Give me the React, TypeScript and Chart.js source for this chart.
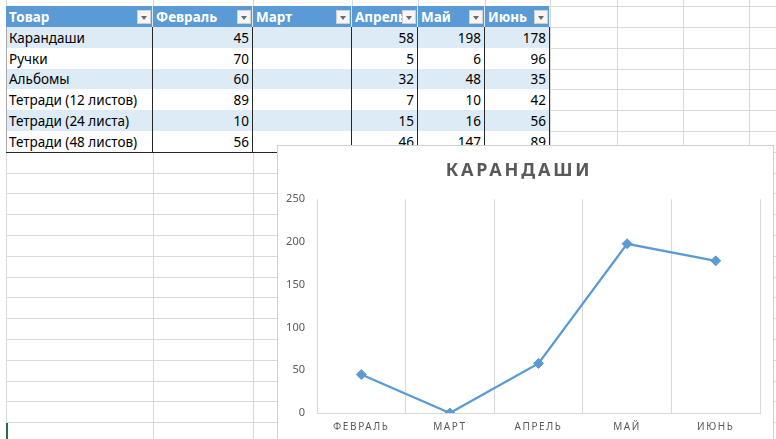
import React, { useEffect, useRef } from "react";
import { Chart, registerables } from "chart.js";

Chart.register(...registerables);

// ---------- DATA ----------
const headerLabels = ["Товар", "Февраль", "Март", "Апрель", "Май", "Июнь"];
const products = [
  "Карандаши",
  "Ручки",
  "Альбомы",
  "Тетради (12 листов)",
  "Тетради (24 листа)",
  "Тетради (48 листов)",
];
const feb: (number | null)[] = [45, 70, 60, 89, 10, 56];
const mar: (number | null)[] = [null, null, null, null, null, null];
const apr: (number | null)[] = [58, 5, 32, 7, 15, 46];
const may: (number | null)[] = [198, 6, 48, 10, 16, 147];
const jun: (number | null)[] = [178, 96, 35, 42, 56, 89];
const chartCategories = ["ФЕВРАЛЬ", "МАРТ", "АПРЕЛЬ", "МАЙ", "ИЮНЬ"];
const chartTitle = "КАРАНДАШИ";
const chartRow = 0; // Карандаши
const yMin = 0;
const yMax = 250;
const yStep = 50;

// ---------- LAYOUT ----------
const W = 776;
const H = 439;
const colX = [6, 153, 253, 352, 418, 485, 550, 617, 683, 749, 816];
const rowTop0 = 6.1;
const rowH = 20.8;
const FONT = '"Noto Sans", "Open Sans", sans-serif';
const chartBox = { left: 277, top: 145, width: 497, height: 300 };

const monthCols = [feb, mar, apr, may, jun];

function ChartPanel() {
  const ref = useRef<HTMLCanvasElement | null>(null);
  useEffect(() => {
    const canvas = ref.current;
    if (!canvas) return;
    const series = monthCols.map((col) => col[chartRow] ?? 0);
    const spacingPlugin = {
      id: "letterSpacing",
      beforeDraw(chart: any) {
        const x = chart.scales.x;
        if (x && !x.__ls) {
          const orig = x.drawLabels.bind(x);
          x.drawLabels = (area: any) => {
            const c = chart.ctx as any;
            c.save();
            c.letterSpacing = "1.6px";
            orig(area);
            c.restore();
          };
          x.__ls = true;
        }
        const t = chart.titleBlock;
        if (t && !t.__ls) {
          const origT = t.draw.bind(t);
          t.draw = (...args: any[]) => {
            const c = chart.ctx as any;
            c.save();
            c.letterSpacing = "2.8px";
            origT(...args);
            c.restore();
          };
          t.__ls = true;
        }
      },
    };
    const chart = new Chart(canvas, {
      type: "line",
      data: {
        labels: chartCategories,
        datasets: [
          {
            label: products[chartRow],
            data: series,
            borderColor: "#5B9BD5",
            backgroundColor: "#5B9BD5",
            borderWidth: 2.3,
            pointStyle: "rectRot",
            pointRadius: 5,
            pointBorderWidth: 1,
            pointBackgroundColor: "#5B9BD5",
            pointBorderColor: "#5B9BD5",
            tension: 0,
          },
        ],
      },
      options: {
        animation: false,
        responsive: false,
        devicePixelRatio: 1,
        layout: { padding: { left: 0, right: 13, top: 0, bottom: 0 } },
        plugins: {
          legend: { display: false },
          tooltip: { enabled: false },
          title: {
            display: true,
            text: chartTitle,
            color: "#595959",
            font: { family: FONT, size: 18, weight: "bold" },
            padding: { top: 14, bottom: 17.7 },
          },
        },
        scales: {
          x: {
            offset: true,
            grid: { display: true, offset: true, color: "#D9D9D9", drawTicks: false, lineWidth: 1 },
            border: { display: true, color: "#D9D9D9", width: 1 },
            ticks: {
              color: "#595959",
              font: { family: FONT, size: 10 },
              padding: 8.5,
              maxRotation: 0,
            },
            afterFit: (s: any) => {
              s.height = 31;
            },
          },
          y: {
            min: yMin,
            max: yMax,
            grid: { display: false, drawTicks: false },
            border: { display: false },
            ticks: {
              stepSize: yStep,
              color: "#595959",
              font: { family: FONT, size: 11 },
              padding: 12,
            },
            afterFit: (s: any) => {
              s.width = 39;
            },
          },
        },
      },
      plugins: [spacingPlugin as any],
    });
    return () => chart.destroy();
  }, []);
  return (
    <div
      style={{
        position: "absolute",
        left: chartBox.left,
        top: chartBox.top,
        width: chartBox.width,
        height: chartBox.height,
        background: "#fff",
        border: "1px solid #D0D0D0",
        boxSizing: "border-box",
      }}
    >
      <canvas
        ref={ref}
        width={chartBox.width - 2}
        height={chartBox.height - 2}
        style={{ position: "absolute", left: 0, top: 0, width: chartBox.width - 2, height: chartBox.height - 2 }}
      />
    </div>
  );
}

function DropButton({ right, top }: { right: number; top: number }) {
  return (
    <div
      style={{
        position: "absolute",
        left: right - 16,
        top,
        width: 14,
        height: 14,
        background: "#F5F5F5",
        border: "1px solid #D0D0D0",
        boxSizing: "border-box",
      }}
    >
      <div
        style={{
          position: "absolute",
          left: 3,
          top: 5,
          width: 0,
          height: 0,
          borderLeft: "3.5px solid transparent",
          borderRight: "3.5px solid transparent",
          borderTop: "4px solid #6A6A6A",
        }}
      />
    </div>
  );
}

function Sheet() {
  const els: React.ReactNode[] = [];
  // sheet gridlines
  for (let i = 0; i < colX.length; i++) {
    els.push(
      <div key={"vc" + i} style={{ position: "absolute", left: colX[i], top: 0, width: 1, height: H, background: "#DADADA" }} />
    );
  }
  for (let y = rowTop0 - rowH, k = 0; y < H; y += rowH, k++) {
    els.push(
      <div key={"hr" + k} style={{ position: "absolute", left: colX[0], top: Math.round(y), width: W, height: 1, background: "#DADADA" }} />
    );
  }
  // header row
  const hTop = Math.round(rowTop0);
  const hH = Math.round(rowTop0 + rowH) - hTop;
  headerLabels.forEach((lab, c) => {
    const l = colX[c];
    const r = colX[c + 1];
    els.push(
      <div
        key={"h" + c}
        style={{
          position: "absolute",
          left: l,
          top: hTop,
          width: r - l,
          height: hH,
          background: "#5B9BD5",
          borderRight: "1px solid #DCE8F4",
          boxSizing: "border-box",
          overflow: "hidden",
        }}
      >
        <div
          style={{
            position: "absolute",
            left: 3,
            top: 0,
            lineHeight: hH + 1 + "px",
            color: "#fff",
            fontWeight: "bold",
            fontSize: 13.5,
            whiteSpace: "nowrap",
          }}
        >
          {lab}
        </div>
      </div>
    );
    els.push(<DropButton key={"b" + c} right={r} top={hTop + 4} />);
  });
  // data rows
  products.forEach((p, i) => {
    const top = Math.round(rowTop0 + rowH * (i + 1));
    const bot = Math.round(rowTop0 + rowH * (i + 2));
    const bg = i % 2 === 0 ? "#DDEBF7" : "#FFFFFF";
    const values = [p, ...monthCols.map((col) => col[i])];
    values.forEach((v, c) => {
      const l = colX[c];
      const r = colX[c + 1];
      els.push(
        <div
          key={"d" + i + "_" + c}
          style={{
            position: "absolute",
            left: l,
            top,
            width: r - l,
            height: bot - top,
            background: bg,
            overflow: "hidden",
          }}
        >
          <div
            style={{
              position: "absolute",
              left: c === 0 ? 3 : undefined,
              right: c === 0 ? undefined : 4,
              top: 0,
              lineHeight: bot - top + 1 + "px",
              color: "#000",
              fontSize: 13.5,
              whiteSpace: "nowrap",
            }}
          >
            {v === null ? "" : String(v)}
          </div>
        </div>
      );
    });
    // row separator
    els.push(
      <div key={"rs" + i} style={{ position: "absolute", left: colX[0], top: bot, width: colX[6] - colX[0], height: 1, background: i === products.length - 1 ? "#262626" : "#A8A8A8" }} />
    );
  });
  // table vertical borders
  const dTop = Math.round(rowTop0 + rowH);
  const dBot = Math.round(rowTop0 + rowH * (products.length + 1));
  for (let c = 1; c <= 6; c++) {
    els.push(
      <div key={"tv" + c} style={{ position: "absolute", left: colX[c] - 1, top: dTop, width: 1, height: dBot - dTop, background: "#262626" }} />
    );
  }
  els.push(
    <div key="tvl" style={{ position: "absolute", left: colX[0], top: dTop, width: 1, height: dBot - dTop, background: "#A8A8A8" }} />
  );
  // selected cell marker
  els.push(<div key="sel" style={{ position: "absolute", left: 6, top: 423, width: 2, height: 16, background: "#217346" }} />);
  return <>{els}</>;
}

export default function App() {
  return (
    <div
      style={{
        position: "fixed",
        left: 0,
        top: 0,
        width: W,
        height: H,
        overflow: "hidden",
        background: "#fff",
        fontFamily: FONT,
      }}
    >
      <Sheet />
      <ChartPanel />
    </div>
  );
}
